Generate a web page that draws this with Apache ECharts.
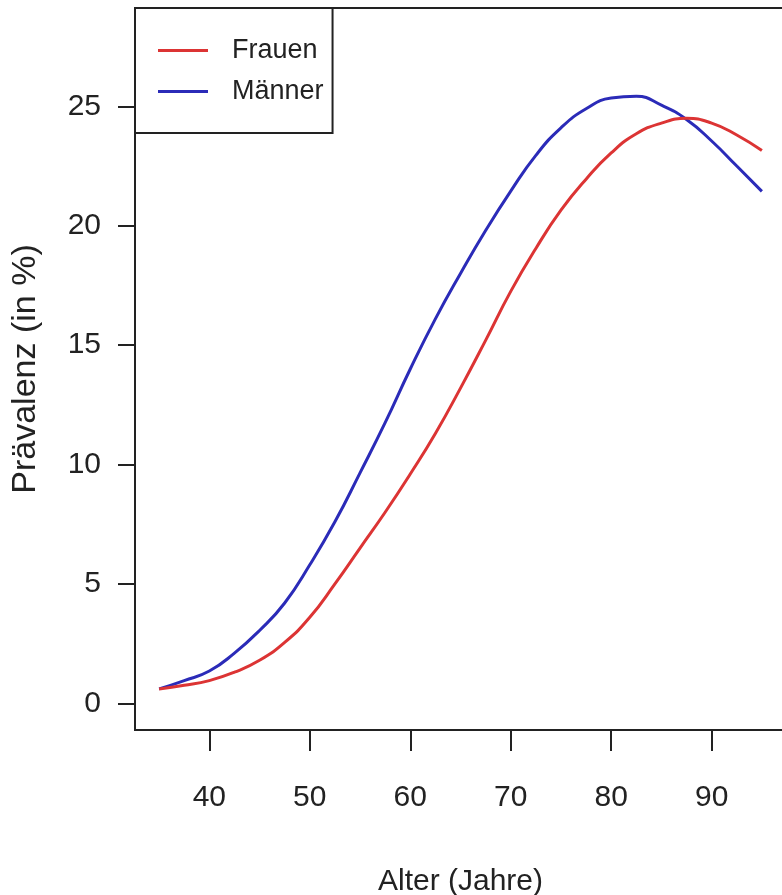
<!DOCTYPE html>
<html>
<head>
<meta charset="utf-8">
<script src="https://cdn.jsdelivr.net/npm/echarts@6/dist/echarts.min.js"></script>
<style>
    html, body { margin: 0; padding: 0; background: #fff; }
    #chart { width: 782px; height: 895px; }
</style>
</head>
<body>
<div id="chart"></div>
<script>
// Alter (Jahre)
const ages = [35, 37.5, 40, 42.5, 45, 47.5, 50, 52.5, 55, 57.5, 60, 62.5, 65,
    67.5, 70, 72.5, 75, 77.5, 80, 82.5, 85, 87.5, 90, 92.5, 95];
// Prävalenz (in %)
const frauen = [0.6, 0.75, 0.95, 1.3, 1.8, 2.55, 3.6, 5.0, 6.5, 8.0, 9.6, 11.3, 13.2,
    15.2, 17.25, 19.05, 20.65, 21.95, 23.05, 23.85, 24.3, 24.5, 24.3, 23.8, 23.15];
const maenner = [0.6, 0.95, 1.35, 2.1, 3.05, 4.2, 5.8, 7.6, 9.65, 11.75, 14.0, 16.1, 18.0,
    19.8, 21.45, 22.95, 24.1, 24.9, 25.35, 25.42, 25.05, 24.45, 23.55, 22.5, 21.44];
const xTicks = [40, 50, 60, 70, 80, 90];
const yTicks = [0, 5, 10, 15, 20, 25];

const font = "'Liberation Sans', Arial, sans-serif";
const ink = '#222';

const toPairs = (vals) => ages.map((a, i) => [a, vals[i]]);

const chart = echarts.init(document.getElementById('chart'), null, { renderer: 'canvas' });
chart.setOption({
    backgroundColor: '#fff',
    animation: false,
    grid: {
        left: 135, top: 8, width: 651, height: 722,
        outerBoundsMode: 'none', containLabel: false,
        show: true, borderColor: ink, borderWidth: 2, backgroundColor: 'transparent'
    },
    legend: {
        left: 135, top: 8,
        orient: 'vertical',
        backgroundColor: '#fff',
        borderColor: ink, borderWidth: 2,
        padding: [29, 9, 28, 23],
        itemGap: 14,
        itemWidth: 50, itemHeight: 3,
        icon: 'rect',
        textStyle: { fontFamily: font, fontSize: 27, color: ink, padding: [0, 0, 0, 19] },
        data: ['Frauen', 'Männer']
    },
    xAxis: {
        type: 'value', min: 32.6, max: 97.4,
        name: 'Alter (Jahre)', nameLocation: 'middle', nameGap: 137,
        nameTextStyle: { fontFamily: font, fontSize: 30, color: ink },
        axisLine: { show: false, onZero: false },
        splitLine: { show: false },
        axisTick: { show: true, inside: false, length: 21, customValues: xTicks,
            lineStyle: { color: ink, width: 2 } },
        axisLabel: { customValues: xTicks, margin: 53, fontFamily: font, fontSize: 30, color: ink }
    },
    yAxis: {
        type: 'value', min: -1.12, max: 29.12,
        name: 'Prävalenz (in %)', nameLocation: 'middle', nameGap: 92, nameRotate: 90,
        nameTextStyle: { fontFamily: font, fontSize: 34, color: ink },
        axisLine: { show: false, onZero: false },
        splitLine: { show: false },
        axisTick: { show: true, inside: false, length: 17, customValues: yTicks,
            lineStyle: { color: ink, width: 2 } },
        axisLabel: { customValues: yTicks, margin: 34, fontFamily: font, fontSize: 30, color: ink }
    },
    series: [
        {
            name: 'Männer', type: 'line', smooth: true, symbol: 'none',
            data: toPairs(maenner),
            lineStyle: { color: '#2b2bb8', width: 3 },
            itemStyle: { color: '#2b2bb8' }
        },
        {
            name: 'Frauen', type: 'line', smooth: true, symbol: 'none',
            data: toPairs(frauen),
            lineStyle: { color: '#dc3434', width: 3 },
            itemStyle: { color: '#dc3434' }
        }
    ]
});
</script>
</body>
</html>
